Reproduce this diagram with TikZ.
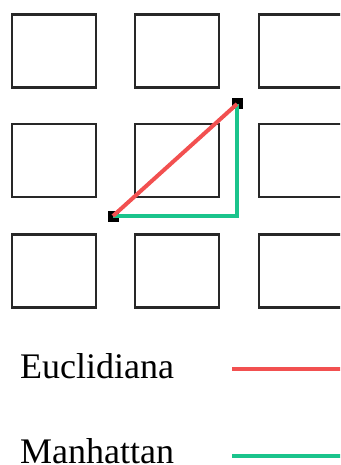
\documentclass[tikz,border=0pt]{standalone}
\usepackage{fontspec}
\setmainfont{Liberation Serif}
\definecolor{eucl}{RGB}{242,80,80}
\definecolor{manh}{RGB}{26,196,140}
\definecolor{boxc}{RGB}{40,40,40}
\begin{document}
\begin{tikzpicture}[x=1pt,y=-1pt,
  cell/.style={draw=boxc,line width=2.6pt,minimum width=84pt,minimum height=73pt,inner sep=0pt,outer sep=0pt},
  pt/.style={fill=black,minimum size=11pt,inner sep=0pt,outer sep=0pt},
  lbl/.style={anchor=base west,inner sep=0pt,font=\fontsize{36}{42}\selectfont},
  euc/.style={draw=eucl,line width=4pt},
  man/.style={draw=manh,line width=3.6pt}]
\useasboundingbox (0,0) rectangle (340,465);
\begin{scope}
\clip (0,0) rectangle (340,465);
\node[cell] (b11) at (54,51) {};
\node[cell] (b12) at (177,51) {};
\node[cell] (b13) at (301,51) {};
\node[cell] (b21) at (54,160.5) {};
\node[cell] (b22) at (177,160.5) {};
\node[cell] (b23) at (301,160.5) {};
\node[cell] (b31) at (54,271) {};
\node[cell] (b32) at (177,271) {};
\node[cell] (b33) at (301,271) {};
\node[pt] (p1) at (113,216) {};
\node[pt] (p2) at (237,104) {};
\draw[man,line join=miter] (p1.center) -| (p2.center);
\draw[euc] (p1.center) -- (p2.center);
\node[lbl] (t1) at (20,378) {Euclidiana};
\node[lbl] (t2) at (20,463) {Manhattan};
\coordinate (e1) at (232,369);
\coordinate (e2) at (342,369);
\coordinate (m1) at (232,456);
\coordinate (m2) at (342,456);
\draw[euc] (e1) -- (e2);
\draw[man] (m1) -- (m2);
\end{scope}
\end{tikzpicture}
\end{document}
